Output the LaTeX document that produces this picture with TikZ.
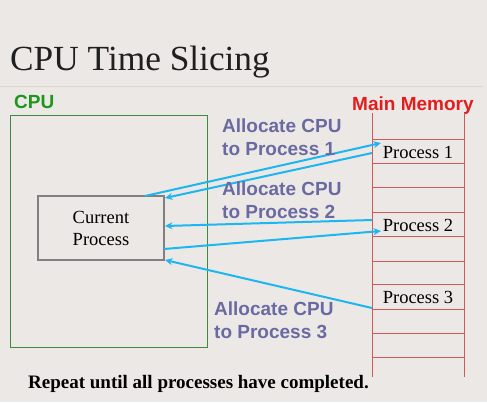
\documentclass[tikz,border=0pt]{standalone}
\usepackage{fontspec}
\setmainfont{Liberation Serif}
\setsansfont{Liberation Sans}
\usetikzlibrary{arrows.meta}
\definecolor{bg}{HTML}{ECE8E5}
\definecolor{cpugreen}{HTML}{1E961E}
\definecolor{boxgreen}{HTML}{3C8C3C}
\definecolor{memred}{HTML}{E01E1E}
\definecolor{linered}{HTML}{D05A5A}
\definecolor{arrowcyan}{HTML}{1CB6F0}
\definecolor{slate}{HTML}{6A6AA2}
\definecolor{sepline}{HTML}{E2D6CA}
\tikzset{
  lbl/.style={font=\sffamily\bfseries\fontsize{19}{23}\selectfont, text=slate, align=left, inner sep=0pt, anchor=base west},
  proc/.style={font=\fontsize{18.5}{22}\selectfont, inner sep=0pt},
  link/.style={draw=arrowcyan, line width=2pt, -{Stealth[length=7.5pt,width=7pt]}},
  memline/.style={draw=linered, line width=0.8pt}
}
\begin{document}
\begin{tikzpicture}[x=1pt,y=-1pt]
\fill[bg] (0,0) rectangle (487,402);
\useasboundingbox (0,0) rectangle (487,402);
% title
\node[anchor=base west, inner sep=0pt, font=\fontsize{35.3}{40}\selectfont, text=black!88] (title) at (10,70) {CPU Time Slicing};
\draw[sepline, line width=1pt] (0,86) -- (483,86);
% headings
\node[anchor=base west, inner sep=0pt, font=\sffamily\bfseries\fontsize{19}{22}\selectfont, text=cpugreen] (cpulbl) at (14,108) {CPU};
\node[anchor=base west, inner sep=0pt, font=\sffamily\bfseries\fontsize{19}{22}\selectfont, text=memred] (memlbl) at (352,110) {Main Memory};
% CPU box
\draw[boxgreen, line width=0.8pt] (10,115) rectangle (207,347);
% current process box
\node[draw=black!50, line width=1.2pt, fill=bg, minimum width=126pt, minimum height=64pt, align=center, font=\fontsize{18.5}{22}\selectfont, inner sep=0pt] (cur) at (101,228) {Current\\Process};
% memory
\draw[memline] (372,113) -- (372,377);
\draw[memline] (464,113) -- (464,377);
\foreach \yy in {139,163,187,212,236,261,284,309,333,357}
  \draw[memline] (372,\yy) -- (464,\yy);
\node[proc] (p1) at (418,152) {Process 1};
\node[proc] (p2) at (418,225) {Process 2};
\node[proc] (p3) at (418,297) {Process 3};
% connector end points
\coordinate (c1) at (145,196);
\coordinate (m1in) at (381,143);
\coordinate (m1out) at (372,153);
\coordinate (c2in) at (165,198);
\coordinate (m2out) at (372,220);
\coordinate (c3in) at (165,226);
\coordinate (c4) at (164,249);
\coordinate (m2in) at (381,231);
\coordinate (m3out) at (372,308);
\coordinate (c5in) at (165,260);
\draw[link] (c1) -- (m1in);
\draw[link] (m1out) -- (c2in);
\draw[link] (m2out) -- (c3in);
\draw[link] (c4) -- (m2in);
\draw[link] (m3out) -- (c5in);
% labels
\node[lbl] (l1) at (222,155) {Allocate CPU\\to Process 1};
\node[lbl] (l2) at (222,218) {Allocate CPU\\to Process 2};
\node[lbl] (l3) at (214,338) {Allocate CPU\\to Process 3};
% bottom
\node[anchor=base west, inner sep=0pt, font=\bfseries\fontsize{19}{22}\selectfont] (rep) at (28,388) {Repeat until all processes have completed.};
\end{tikzpicture}
\end{document}
